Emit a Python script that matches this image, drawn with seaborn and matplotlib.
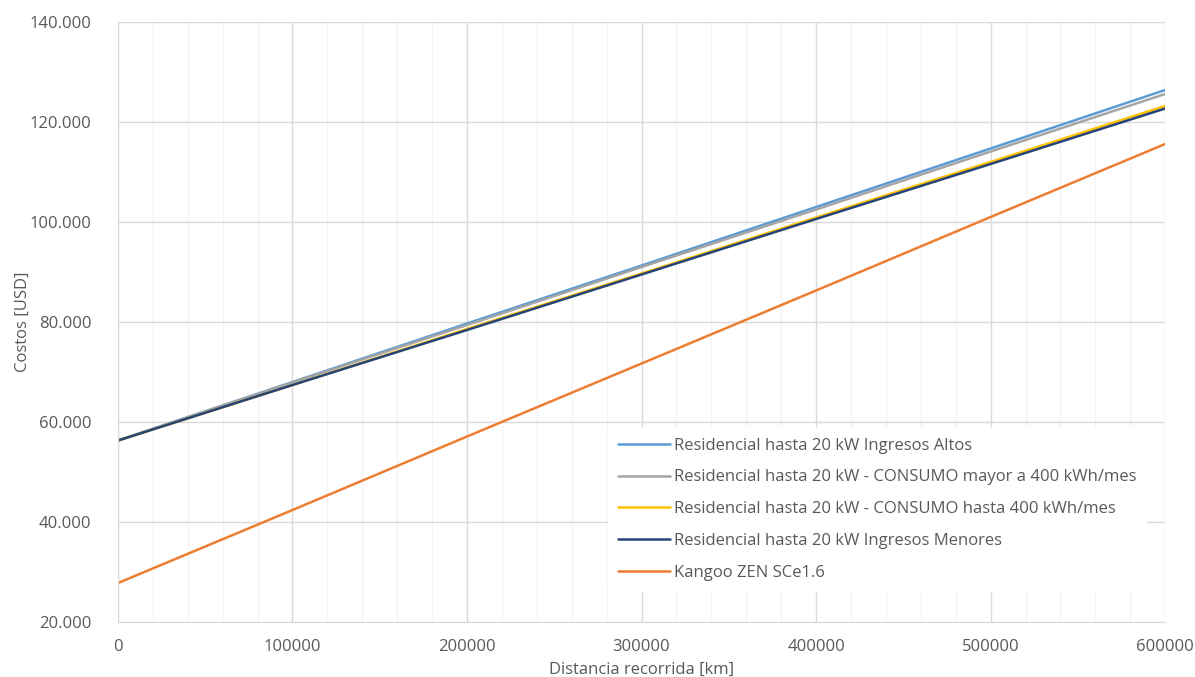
import pandas as pd
import matplotlib.pyplot as plt
import matplotlib.ticker as mticker
import seaborn as sns

# Distancia recorrida [km]
distancia = [0, 100000, 200000, 300000, 400000, 500000, 600000]

# Costos [USD]
altos = [56300, 68000, 79700, 91300, 103000, 114700, 126400]
mayor_400 = [56300, 67900, 79400, 91000, 102500, 114100, 125600]
hasta_400 = [56300, 67400, 78600, 89700, 100900, 112000, 123200]
menores = [56300, 67400, 78400, 89500, 100600, 111600, 122700]
kangoo = [27800, 42400, 57100, 71700, 86300, 101000, 115600]

series = {
    "Residencial hasta 20 kW Ingresos Altos": altos,
    "Residencial hasta 20 kW - CONSUMO mayor a 400 kWh/mes": mayor_400,
    "Residencial hasta 20 kW - CONSUMO hasta 400 kWh/mes": hasta_400,
    "Residencial hasta 20 kW Ingresos Menores": menores,
    "Kangoo ZEN SCe1.6": kangoo,
}
colores = ["#5B9BD5", "#A5A5A5", "#FFC000", "#264478", "#ED7D31"]

frames = []
for nombre, valores in series.items():
    frames.append(pd.DataFrame({"km": distancia, "costo": valores, "serie": nombre}))
df = pd.concat(frames, ignore_index=True)

sns.set_style("white")
plt.rcParams['font.family'] = ['Open Sans', 'DejaVu Sans']

fig = plt.figure(figsize=(11.95, 6.77), dpi=100)
ax = fig.add_axes([0.0987, 0.0812, 0.8763, 0.8863])

sns.lineplot(data=df, x="km", y="costo", hue="serie", palette=colores,
             linewidth=1.8, ax=ax)

ax.set_xlim(0, 600000)
ax.set_ylim(20000, 140000)
ax.xaxis.set_major_locator(mticker.MultipleLocator(100000))
ax.xaxis.set_minor_locator(mticker.MultipleLocator(20000))
ax.yaxis.set_major_locator(mticker.MultipleLocator(20000))
ax.yaxis.set_major_formatter(mticker.FuncFormatter(lambda v, p: f"{int(v):,}".replace(",", ".")))
ax.xaxis.set_major_formatter(mticker.FuncFormatter(lambda v, p: f"{int(v)}"))

# cuadricula estilo Excel
ax.grid(which="major", color="#D9D9D9", linewidth=1)
ax.grid(which="minor", axis="x", color="#F4F4F4", linewidth=1)
ax.set_axisbelow(True)
for s in ["top", "right"]:
    ax.spines[s].set_visible(False)
for s in ["left", "bottom"]:
    ax.spines[s].set_color("#D9D9D9")
ax.tick_params(axis="both", which="both", length=0, labelsize=12, colors="#595959")
ax.tick_params(axis="y", pad=19)
ax.tick_params(axis="x", pad=12)

ax.set_xlabel("Distancia recorrida [km]", fontsize=12, color="#595959", labelpad=5)
ax.set_ylabel("Costos [USD]", fontsize=12, color="#595959", labelpad=-1)

leg = ax.legend(loc="lower right", bbox_to_anchor=(0.99, 0.038), frameon=True,
                fontsize=12, handlelength=3.1, handletextpad=0.25, labelspacing=0.95,
                borderpad=0.6)
leg.get_frame().set_edgecolor("white")
leg.get_frame().set_facecolor("white")
leg.get_frame().set_alpha(1)
for t in leg.get_texts():
    t.set_color("#595959")

fig.savefig("out.png", dpi=100)
